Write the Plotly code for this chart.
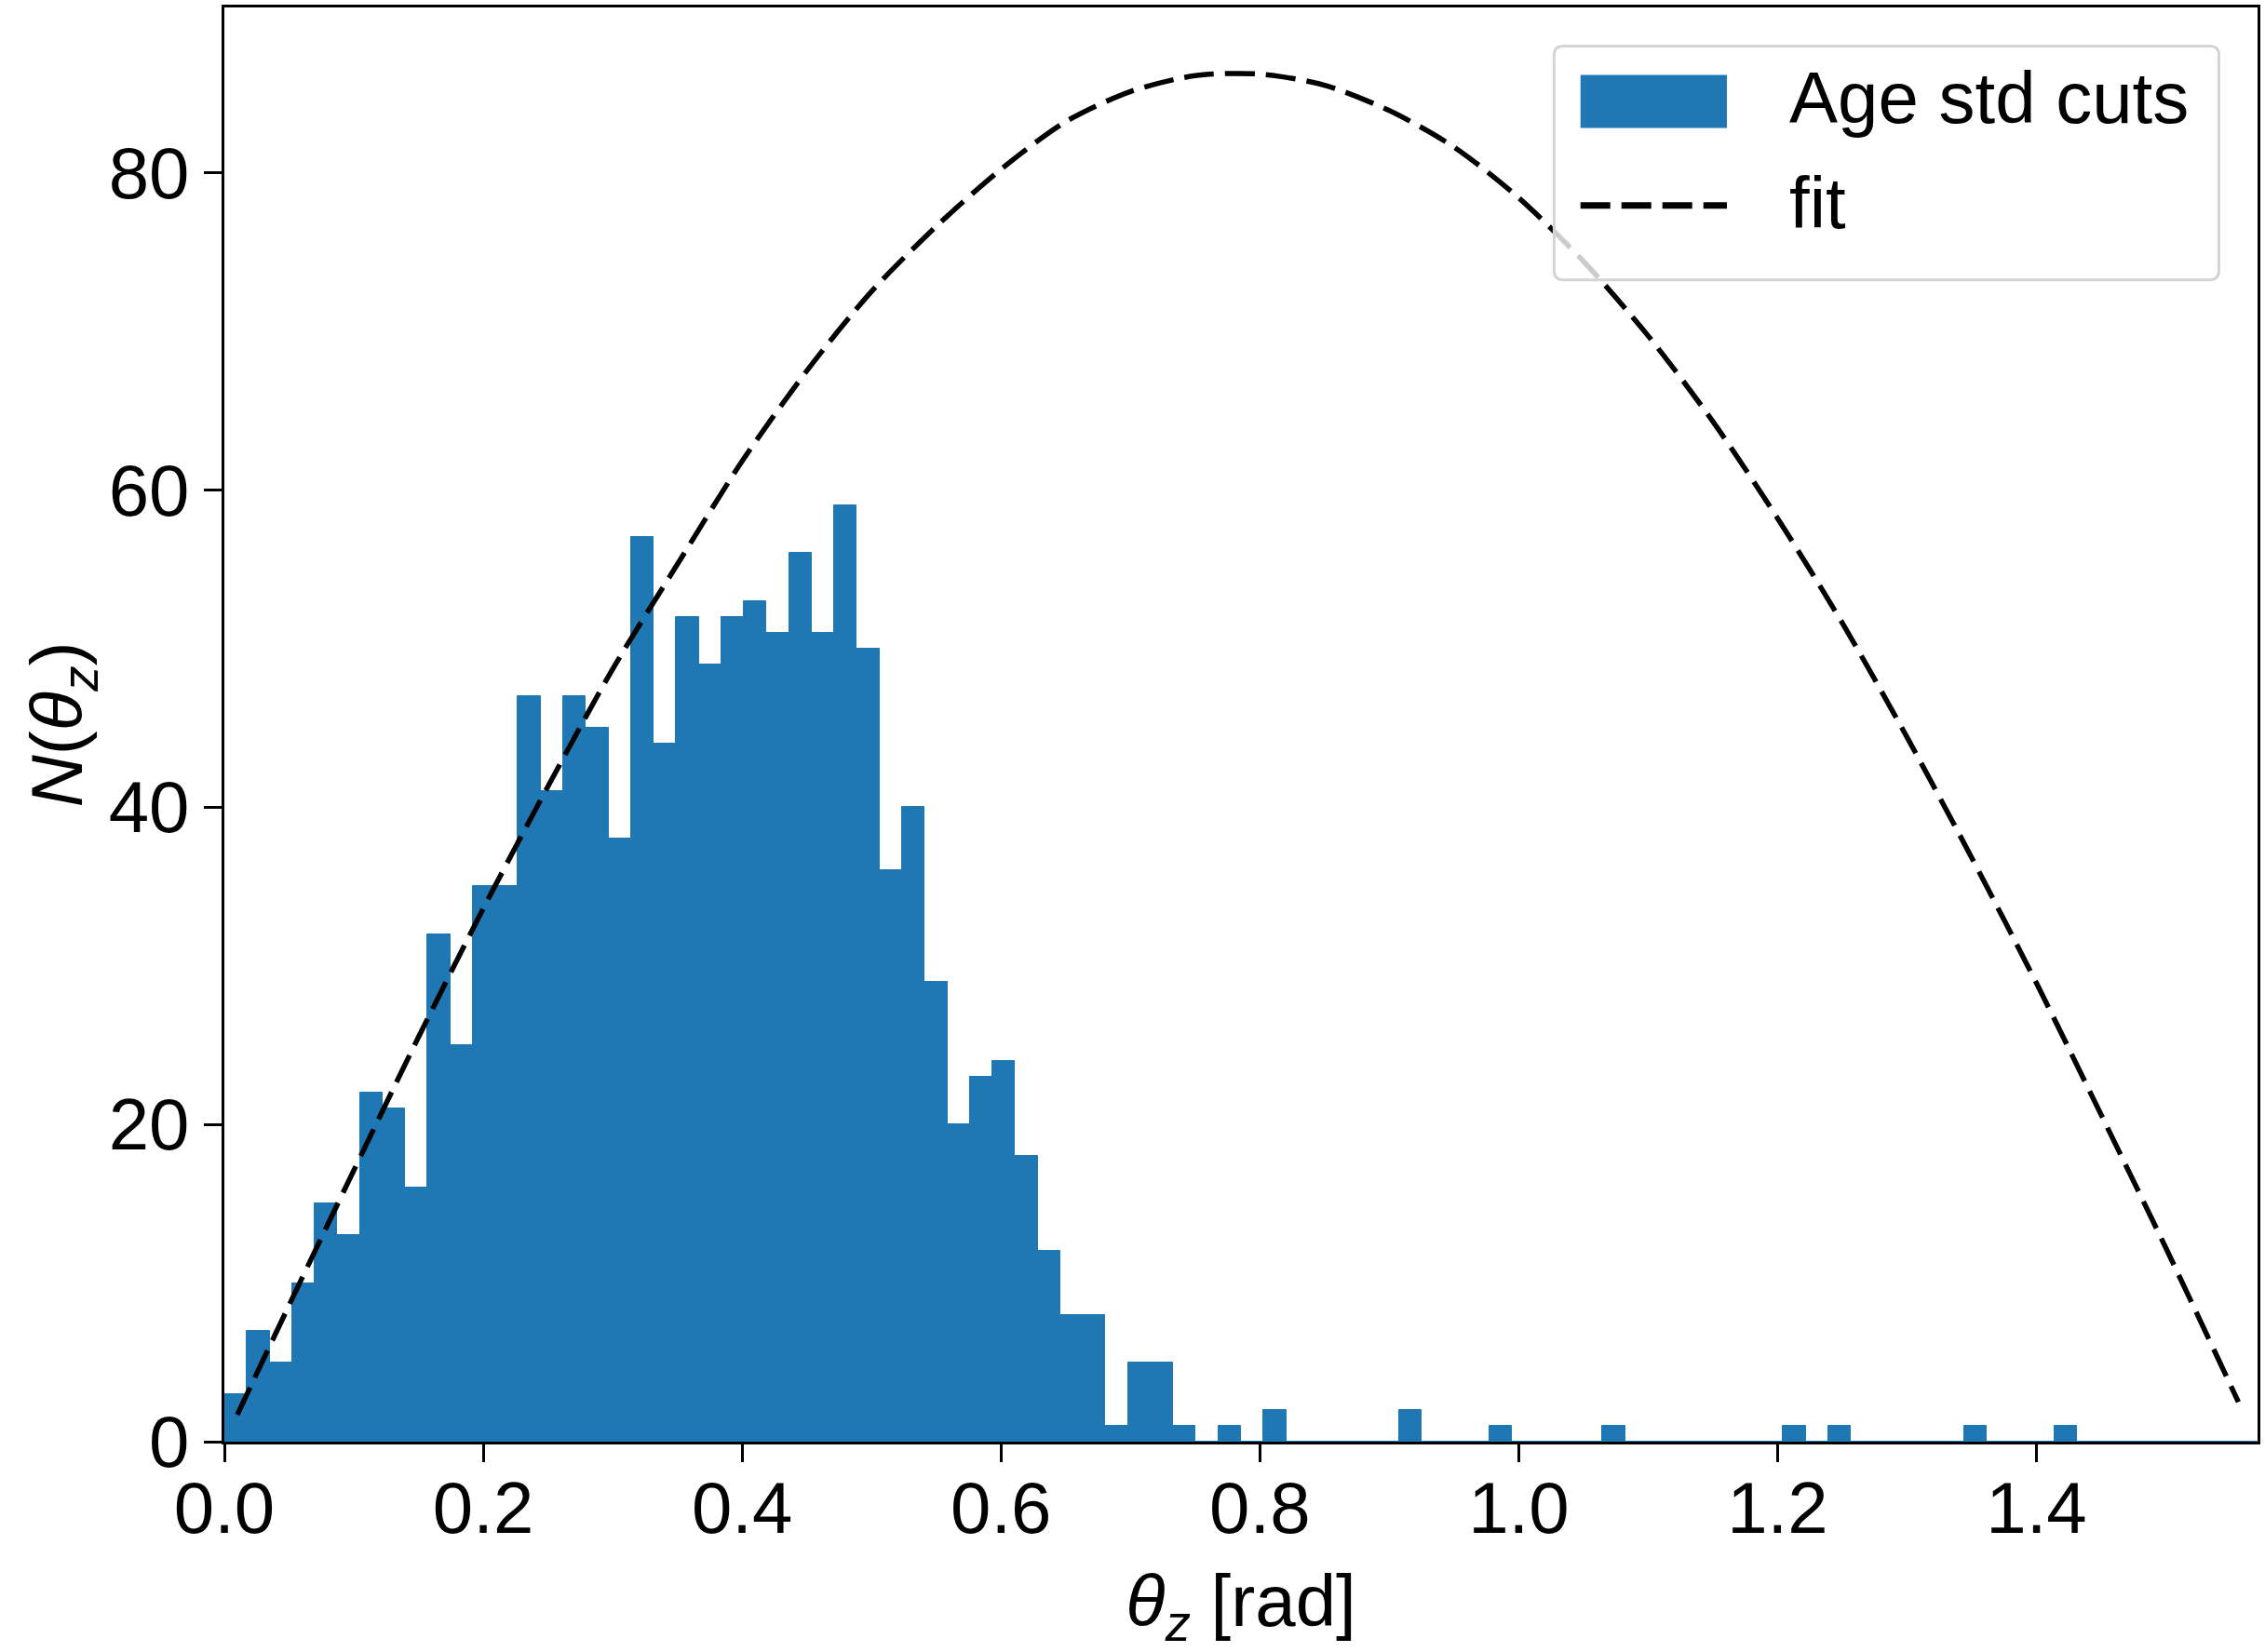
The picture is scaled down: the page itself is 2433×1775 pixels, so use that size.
import numpy as np
import plotly.graph_objects as go

# histogram counts, one bin per degree from 0 to 90 deg
counts = [
    3, 7, 5, 10, 15, 13, 22, 21, 16, 32,
    25, 35, 35, 47, 41, 47, 45, 38, 57, 44,
    52, 49, 52, 53, 51, 56, 51, 59, 50, 36,
    40, 29, 20, 23, 24, 18, 12, 8, 8, 1,
    5, 5, 1, 0, 1, 0, 2, 0, 0, 0,
    0, 0, 2, 0, 0, 0, 1, 0, 0, 0,
    0, 1, 0, 0, 0, 0, 0, 0, 0, 1,
    0, 1, 0, 0, 0, 0, 0, 1, 0, 0,
    0, 1, 0, 0, 0, 0, 0, 0, 0, 0,
]

# fit curve
fit_x = [0.01, 0.05, 0.10, 0.15, 0.20, 0.25, 0.30, 0.35, 0.40, 0.45,
         0.50, 0.55, 0.60, 0.65, 0.70, 0.75, 0.80, 0.85, 0.90, 0.95,
         1.00, 1.05, 1.10, 1.15, 1.20, 1.25, 1.30, 1.35, 1.40, 1.45,
         1.50, 1.556]
fit_y = [1.7, 8.6, 17.1, 25.5, 33.6, 41.3, 48.7, 55.3, 61.8, 67.5,
         72.5, 76.6, 80.2, 83.2, 85.1, 86.1, 86.2, 85.5, 83.9, 81.6,
         78.4, 74.4, 69.7, 64.3, 58.2, 51.6, 44.4, 36.8, 28.9, 20.6,
         12.2, 2.5]

hist_label = "Age std cuts"
fit_label = "fit"

edges = np.radians(np.arange(0, len(counts) + 1))
centers = (edges[:-1] + edges[1:]) / 2
bin_w = edges[1] - edges[0]

FONT = "Liberation Sans, Arial, Helvetica, sans-serif"
BLUE = "#1f77b4"
DASH = "32px,12px"

fig = go.Figure()
fig.add_trace(
    go.Bar(
        x=centers, y=counts, width=bin_w, name=hist_label,
        marker=dict(color=BLUE, line=dict(color=BLUE, width=1)),
        showlegend=False,
    )
)
fig.add_trace(
    go.Scatter(
        x=fit_x, y=fit_y, mode="lines", name=fit_label,
        line=dict(color="black", width=5.5, dash=DASH, shape="spline", smoothing=0.8),
        showlegend=False,
    )
)

# matplotlib-style legend box (rounded frame) drawn in paper coords
x0, x1, y0, y1 = 0.654, 0.981, 0.810, 0.973
rx, ry = 10 / 2186, 10 / 1549
frame = (
    f"M{x0 + rx},{y0} L{x1 - rx},{y0} Q{x1},{y0} {x1},{y0 + ry} "
    f"L{x1},{y1 - ry} Q{x1},{y1} {x1 - rx},{y1} "
    f"L{x0 + rx},{y1} Q{x0},{y1} {x0},{y1 - ry} "
    f"L{x0},{y0 + ry} Q{x0},{y0} {x0 + rx},{y0} Z"
)
fig.add_shape(type="path", xref="paper", yref="paper", path=frame,
              line=dict(color="#d4d4d4", width=3), fillcolor="rgba(255,255,255,0.8)", layer="above")
fig.add_shape(type="rect", xref="paper", yref="paper", x0=0.667, x1=0.739, y0=0.916, y1=0.953,
              line=dict(width=0), fillcolor=BLUE, layer="above")
fig.add_shape(type="line", xref="paper", yref="paper", x0=0.667, x1=0.739, y0=0.862, y1=0.862,
              line=dict(color="black", width=7, dash=DASH), layer="above")
fig.add_annotation(x=0.769, y=0.937, xref="paper", yref="paper", text=hist_label, showarrow=False,
                   xanchor="left", yanchor="middle", font=dict(size=78, color="black", family=FONT))
fig.add_annotation(x=0.769, y=0.864, xref="paper", yref="paper", text=fit_label, showarrow=False,
                   xanchor="left", yanchor="middle", font=dict(size=78, color="black", family=FONT))

fig.update_layout(
    width=2433,
    height=1775,
    margin=dict(l=241, r=6, t=5, b=221),
    paper_bgcolor="white",
    plot_bgcolor="white",
    bargap=0,
    font=dict(family=FONT, size=78, color="black"),
)
fig.update_xaxes(
    range=[0, np.pi / 2], dtick=0.2, tick0=0, tickformat=".1f",
    showgrid=False, zeroline=False, showline=True, mirror=True,
    linecolor="black", linewidth=3, ticks="outside", ticklen=19, tickwidth=3, tickcolor="black",
    tickfont=dict(size=78), ticklabelstandoff=-18,
    title=dict(text="<i>θ</i><sub><i>z</i></sub> [rad]", font=dict(size=78), standoff=52),
)
fig.update_yaxes(
    range=[0, 90.4], dtick=20, tick0=0,
    showgrid=False, zeroline=False, showline=True, mirror=True,
    linecolor="black", linewidth=3, ticks="outside", ticklen=19, tickwidth=3, tickcolor="black",
    tickfont=dict(size=78),
    title=dict(text="<i>N</i>(<i>θ</i><sub><i>z</i></sub>)", font=dict(size=78), standoff=0),
)

# drop the default page margin so the figure sits at the window's corner
fig.write_html(
    "out.html",
    config={"displayModeBar": False},
    post_script="document.body.style.margin='0';",
)
